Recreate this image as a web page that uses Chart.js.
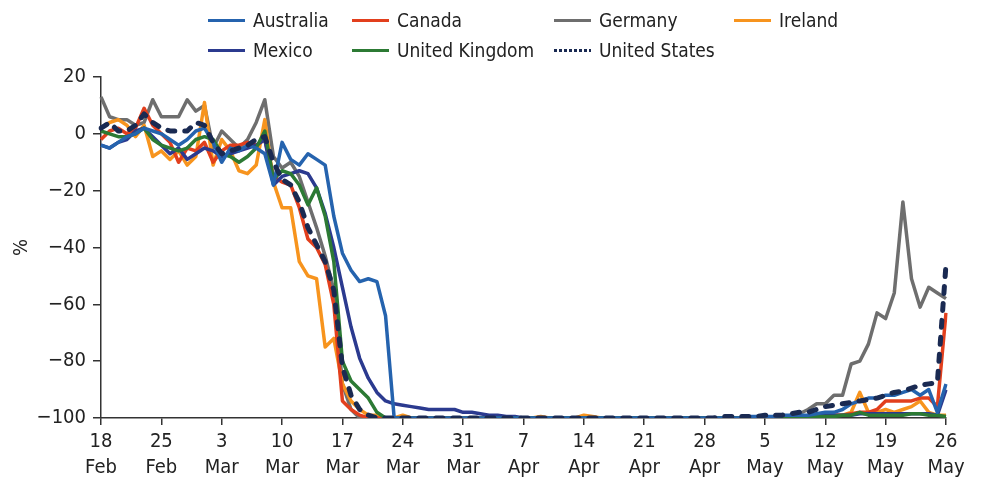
<!DOCTYPE html>
<html>
<head>
<meta charset="utf-8">
<script src="https://cdn.jsdelivr.net/npm/chart.js@4.4.0/dist/chart.umd.min.js"></script>
<style>
    html, body { margin: 0; padding: 0; background: #fff; }
    #wrap { position: relative; width: 981px; height: 481px; }
    #legend { position: absolute; left: 0; top: 0; width: 981px; height: 70px; font-family: 'Liberation Sans Narrow', 'DejaVu Sans Condensed', 'Liberation Sans', sans-serif; font-size: 19px; color: #222; }
    .item { position: absolute; display: flex; align-items: center; height: 24px; white-space: nowrap; }
    .swatch { width: 37px; height: 3px; margin-right: 8px; }
</style>
</head>
<body>
<div id="wrap">
    <canvas id="mobilityChart" width="981" height="481"></canvas>
    <div id="legend"></div>
</div>
<script>
// days from 18 Feb to 26 May 2020
const firstDay = new Date(2020, 1, 18);
const dayCount = 99;
const tickDays = ['18', '25', '3', '10', '17', '24', '31', '7', '14', '21', '28', '5', '12', '19', '26'];
const tickMonths = ['Feb', 'Feb', 'Mar', 'Mar', 'Mar', 'Mar', 'Mar', 'Apr', 'Apr', 'Apr', 'Apr', 'May', 'May', 'May', 'May'];
const yTicks = [20, 0, -20, -40, -60, -80, -100];

const countries = ['Australia', 'Canada', 'Germany', 'Ireland', 'Mexico', 'United Kingdom', 'United States'];

// % change, one value per day
const australia = [
    -4, -5, -3, -1, 0, 2, 1,
    0, -2, -4, -2, 1, 2, -3,
    -10, -5, -6, -4, -5, -7, -18,
    -3, -9, -11, -7, -9, -11, -29,
    -42, -48, -52, -51, -52, -64, -100,
    -100, -100, -100, -100, -100, -100, -100,
    -100, -100, -100, -100, -100, -100, -100,
    -100, -100, -100, -100, -100, -100, -100,
    -100, -100, -100, -100, -100, -100, -100,
    -100, -100, -100, -100, -100, -100, -100,
    -100, -100, -100, -100, -100, -99.5, -99.5,
    -99.5, -99.5, -99, -99, -99, -99, -98.5,
    -98, -98, -97, -95, -94, -93, -93,
    -92, -92, -91, -90, -92, -90, -98,
    -88
];
const canada = [
    -2, 1, 2, 0, 2, 9, 3,
    0, -3, -10, -5, -6, -3, -10,
    -6, -4, -4, -3, -4, -2, -15,
    -17, -18, -26, -37, -40, -46, -60,
    -94, -97, -99, -100, -100, -100, -100,
    -100, -100, -100, -100, -100, -100, -100,
    -100, -100, -100, -100, -100, -100, -100,
    -100, -100, -100, -100, -100, -100, -100,
    -100, -100, -100, -100, -100, -100, -100,
    -100, -100, -100, -100, -100, -100, -100,
    -100, -100, -100, -100, -100, -100, -100,
    -100, -100, -100, -100, -99.5, -99.5, -99.5,
    -99, -99, -99, -98.5, -98, -98, -97,
    -94, -94, -94, -94, -93, -93, -96,
    -63
];
const germany = [
    13, 6, 5, 5, 3, 4, 12,
    6, 6, 6, 12, 8, 10, -5,
    1, -2, -5, -2, 4, 12, -8,
    -12, -10, -15, -24, -33, -43, -55,
    -88, -97, -100, -100, -100, -100, -100,
    -100, -100, -100, -100, -100, -100, -100,
    -100, -100, -100, -100, -100, -100, -100,
    -100, -100, -100, -100, -100, -100, -100,
    -100, -100, -100, -100, -100, -100, -100,
    -100, -100, -100, -100, -100, -100, -100,
    -100, -100, -100, -100, -100, -100, -100,
    -100, -100, -100, -99, -98.5, -97, -95,
    -95, -92, -92, -81, -80, -74, -63,
    -65, -56, -24, -51, -61, -54, -56,
    -58
];
const ireland = [
    2, 4, 5, 3, -1, 3, -8,
    -6, -9, -6, -11, -8, 11, -11,
    -2, -6, -13, -14, -11, 5, -17,
    -26, -26, -45, -50, -51, -75, -72,
    -88, -94, -97, -99, -99, -100, -100,
    -99, -100, -100, -100, -100, -100, -100,
    -100, -100, -100, -100, -100, -100, -100,
    -100, -100, -99.5, -100, -100, -100, -100,
    -99, -99.5, -100, -100, -100, -100, -100,
    -100, -100, -100, -100, -100, -100, -100,
    -100, -100, -100, -100, -100, -100, -100,
    -100, -100, -100, -100, -100, -99.5, -99.5,
    -99, -99, -99, -98, -91, -98, -98,
    -97, -98, -97, -96, -94, -98, -99,
    -99
];
const mexico = [
    -4, -5, -3, -2, 1, 2, -1,
    -4, -7, -5, -9, -7, -5, -6,
    -8, -7, -6, -5, -4, -2, -18,
    -15, -14, -13, -14, -19, -28, -40,
    -54, -68, -79, -86, -91, -94, -95,
    -95.5, -96, -96.5, -97, -97, -97, -97,
    -98, -98, -98.5, -99, -99, -99.5, -99.5,
    -100, -100, -100, -100, -100, -100, -100,
    -100, -100, -100, -100, -100, -100, -100,
    -100, -100, -100, -100, -100, -100, -100,
    -100, -100, -100, -100, -100, -100, -100,
    -100, -100, -100, -99.5, -99.5, -99.5, -99.5,
    -99, -99, -99, -99, -98.5, -98.5, -98.5,
    -98.5, -98.5, -98.5, -98.5, -98.5, -98.5, -99,
    -90
];
const unitedKingdom = [
    1, 0, -1, -1, 0, 2, -2,
    -4, -5, -6, -5, -2, -1, -2,
    -7, -8, -10, -8, -5, 1, -16,
    -13, -14, -18, -25, -19, -29, -45,
    -80, -87, -90, -93, -98, -100, -100,
    -100, -100, -100, -100, -100, -100, -100,
    -100, -100, -100, -100, -100, -100, -100,
    -100, -100, -100, -100, -100, -100, -100,
    -100, -100, -100, -100, -100, -100, -100,
    -100, -100, -100, -100, -100, -100, -100,
    -100, -100, -100, -100, -100, -100, -100,
    -100, -100, -100, -100, -99.5, -99.5, -99.5,
    -99.5, -99.5, -99, -99, -98, -99, -99,
    -99, -99, -99, -98.5, -98.5, -99, -99,
    -99.5
];
const unitedStates = [
    2, 4, 1, 1, 3, 7, 4,
    2, 1, 1, 1, 4, 3, -3,
    -7, -6, -5, -4, -2, -1, -10,
    -16, -18, -24, -33, -39, -45, -55,
    -82, -92, -97, -99, -100, -100, -100,
    -100, -100, -100, -100, -100, -100, -100,
    -100, -100, -100, -100, -100, -100, -100,
    -100, -100, -100, -100, -100, -100, -100,
    -100, -100, -100, -100, -100, -100, -100,
    -100, -100, -100, -100, -100, -100, -100,
    -100, -100, -99.5, -99.5, -99.5, -99.5, -99.5,
    -99, -99, -99, -98.5, -98, -98, -97,
    -96, -95.5, -95, -94.5, -94, -93.5, -93,
    -92, -91, -90.5, -89.5, -88.5, -88, -87.5,
    -46
];

const seriesValues = [australia, canada, germany, ireland, mexico, unitedKingdom, unitedStates];
const seriesColors = ['#2563ae', '#e23f1d', '#6e6e6e', '#f7941e', '#2b3a8f', '#2c7a34', '#1a2a52'];
const drawOrder = [1, 4, 6, 5, 3, 2, 0];

const FONT = "'Liberation Sans Narrow', 'DejaVu Sans Condensed', 'Liberation Sans', sans-serif";
const AXIS = '#333333';

function buildCategories() {
    const labels = [];
    for (let i = 0; i < dayCount; i++) {
        const d = new Date(firstDay);
        d.setDate(firstDay.getDate() + i);
        labels.push(d.toDateString());
    }
    return labels;
}

function buildLegend() {
    const legend = document.getElementById('legend');
    const cols = [208, 352, 554, 734];
    const rows = [8, 38];
    countries.forEach((name, i) => {
        const item = document.createElement('div');
        item.className = 'item';
        item.style.left = cols[i % 4] + 'px';
        item.style.top = rows[i < 4 ? 0 : 1] + 'px';
        const sw = document.createElement('span');
        sw.className = 'swatch';
        if (name === 'United States') {
            sw.style.background = `repeating-linear-gradient(to right, ${seriesColors[i]} 0 3px, transparent 3px 5px)`;
        } else {
            sw.style.background = seriesColors[i];
        }
        const txt = document.createElement('span');
        txt.textContent = name;
        item.appendChild(sw);
        item.appendChild(txt);
        legend.appendChild(item);
    });
}

const datasets = countries.map((name, i) => ({
    label: name,
    data: seriesValues[i],
    borderColor: seriesColors[i],
    backgroundColor: seriesColors[i],
    borderWidth: name === 'United States' ? 5 : 3.5,
    borderDash: name === 'United States' ? [7, 10] : [],
    borderCapStyle: name === 'United States' ? 'round' : 'butt',
    borderJoinStyle: 'round',
    pointRadius: 0,
    tension: 0,
    fill: false,
    order: drawOrder[i]
}));

buildLegend();

new Chart(document.getElementById('mobilityChart'), {
    type: 'line',
    data: { labels: buildCategories(), datasets: datasets },
    options: {
        responsive: false,
        animation: false,
        devicePixelRatio: 1,
        layout: { padding: { top: 77, right: 35, left: 0, bottom: 0 } },
        plugins: { legend: { display: false }, tooltip: { enabled: false } },
        scales: {
            x: {
                type: 'category',
                offset: false,
                afterFit: (scale) => { scale.height = 63; },
                border: { display: true, color: AXIS, width: 1.5 },
                grid: { drawOnChartArea: false, drawTicks: true, tickLength: 7, color: AXIS, lineWidth: 1.5 },
                ticks: {
                    autoSkip: false,
                    maxRotation: 0,
                    padding: 4,
                    color: '#222',
                    font: { family: FONT, size: 20, lineHeight: 1.3 },
                    callback: (val, idx) => idx % 7 === 0 ? [tickDays[idx / 7], tickMonths[idx / 7]] : null
                }
            },
            y: {
                min: -100,
                max: 20,
                afterFit: (scale) => { scale.width = 101; },
                afterBuildTicks: (scale) => { scale.ticks = yTicks.map(v => ({ value: v })); },
                border: { display: true, color: AXIS, width: 1.5 },
                grid: { drawOnChartArea: false, drawTicks: true, tickLength: 8, color: AXIS, lineWidth: 1.5 },
                ticks: {
                    padding: 7,
                    color: '#222',
                    font: { family: FONT, size: 20 },
                    callback: (v) => String(v).replace('-', '\u2212')
                },
                title: {
                    display: true,
                    text: '%',
                    color: '#222',
                    font: { family: FONT, size: 20 },
                    padding: { top: 10, bottom: 0 }
                }
            }
        }
    }
});
</script>
</body>
</html>
